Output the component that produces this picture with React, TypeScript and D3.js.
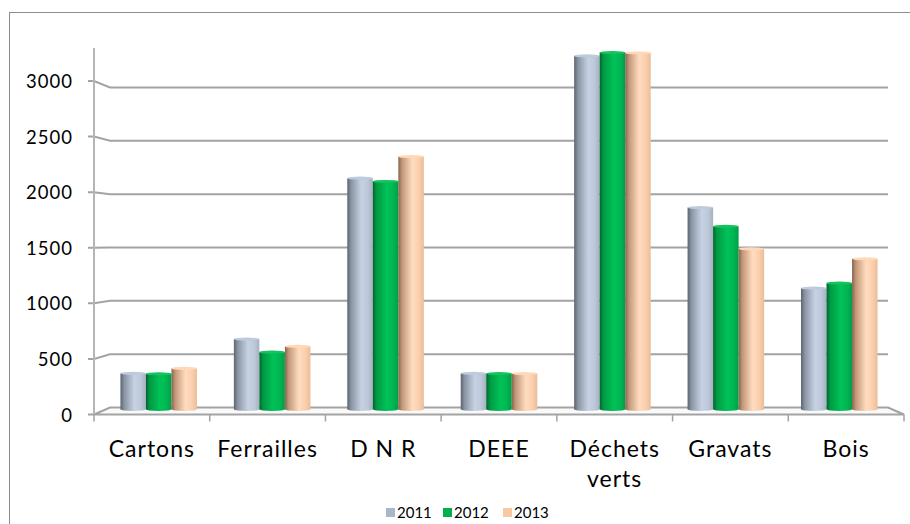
import React from "react";
import * as d3 from "d3";

const categories = ["Cartons", "Ferrailles", "D N R", "DEEE", "Déchets verts", "Gravats", "Bois"];
const categoryLines = [["Cartons"], ["Ferrailles"], ["D N R"], ["DEEE"], ["Déchets", "verts"], ["Gravats"], ["Bois"]];
const seriesNames = ["2011", "2012", "2013"];
const values2011 = [330, 645, 2122, 330, 3245, 1853, 1112];
const values2012 = [325, 525, 2092, 328, 3275, 1679, 1158];
const values2013 = [375, 577, 2320, 328, 3272, 1474, 1382];
const yTicks = [0, 500, 1000, 1500, 2000, 2500, 3000];

const seriesValues = [values2011, values2012, values2013];

const palette = [
  { legend: "#A9B7CB", cap: "#BFCBDC", stops: ["#5C646F", "#8A94A3", "#C6D2E3", "#BDC9DA", "#A5B0C0"] },
  { legend: "#00B050", cap: "#14C25E", stops: ["#00652C", "#009A44", "#00C257", "#00B652", "#009E48"] },
  { legend: "#FAC8A0", cap: "#FFD8B8", stops: ["#85654F", "#C39878", "#FFDCBF", "#FBCFAE", "#EBBD98"] },
];
const stopOffsets = [0, 0.15, 0.55, 0.8, 1];

export default function App() {
  const W = 910;
  const H = 524;
  const font = "Lato, 'Open Sans', sans-serif";

  // perspective planes
  const frontY = d3.scaleLinear().domain([0, 3000]).range([414.5, 81]);
  const backY = d3.scaleLinear().domain([0, 3000]).range([407.5, 87.5]);
  const barY = d3.scaleLinear().domain([0, 3000]).range([409.3, 82.6]);

  const frontX = d3.scaleBand<string>().domain(categories).range([94, 904]).padding(0);
  const midX = d3.scaleBand<string>().domain(categories).range([102, 896]).paddingInner(0.325).paddingOuter(0.1625);
  const innerX = d3.scaleBand<string>().domain(seriesNames).range([0, midX.bandwidth()]).padding(0);
  const bw = innerX.bandwidth();
  const backLeft = 110;
  const backRight = 888;
  const ry = 1.6;

  const legendX = [386, 443, 503];

  return (
    <svg width={W} height={H} style={{ display: "block", position: "absolute", left: 0, top: 0 }}>
      <defs>
        {palette.map((p, i) => (
          <linearGradient key={i} id={`cyl${i}`} x1="0" x2="1" y1="0" y2="0">
            {p.stops.map((c, j) => (
              <stop key={j} offset={stopOffsets[j]} stopColor={c} />
            ))}
          </linearGradient>
        ))}
      </defs>
      <rect x={0} y={0} width={W} height={H} fill="#fff" />
      <rect x={9.5} y={12.5} width={910} height={530} fill="none" stroke="#8C8C8C" strokeWidth={1} />

      {/* back wall gridlines */}
      {yTicks.filter((t) => t > 0).map((t) => (
        <g key={t}>
          <polyline
            points={`${88},${frontY(t)} ${94},${frontY(t)} ${backLeft},${backY(t)} ${backRight},${backY(t)}`}
            fill="none"
            stroke="#A3A3A3"
            strokeWidth={2}
          />
        </g>
      ))}

      {/* floor */}
      <polygon
        points={`94,${frontY(0)} ${backLeft},${backY(0)} ${backRight},${backY(0)} 904,${frontY(0)}`}
        fill="#FAFAFA"
        stroke="#A3A3A3"
        strokeWidth={2}
      />
      <line x1={88} x2={94} y1={frontY(0)} y2={frontY(0)} stroke="#A3A3A3" strokeWidth={2} />

      {/* vertical axis */}
      <line x1={94} x2={94} y1={48} y2={frontY(0)} stroke="#B5B5B5" strokeWidth={2} />

      {/* category ticks */}
      {categories.map((c) => (
        <line key={c} x1={frontX(c)!} x2={frontX(c)!} y1={frontY(0)} y2={frontY(0) + 7} stroke="#A3A3A3" strokeWidth={1.5} />
      ))}
      <line x1={904} x2={904} y1={frontY(0)} y2={frontY(0) + 7} stroke="#A3A3A3" strokeWidth={1.5} />

      {/* bars */}
      {categories.map((c, ci) =>
        seriesNames.map((s, si) => {
          const v = seriesValues[si][ci];
          const x = midX(c)! + innerX(s)!;
          const yTop = barY(v);
          const yBot = barY(0);
          return (
            <g key={c + s}>
              <ellipse cx={x + bw / 2} cy={yBot} rx={bw / 2} ry={ry} fill={`url(#cyl${si})`} />
              <rect x={x} y={yTop} width={bw} height={yBot - yTop} fill={`url(#cyl${si})`} />
              <ellipse cx={x + bw / 2} cy={yTop} rx={bw / 2} ry={ry} fill={palette[si].cap} />
            </g>
          );
        })
      )}

      {/* y labels */}
      {yTicks.map((t) => (
        <text
          key={t}
          x={73}
          y={frontY(t) + 7}
          textAnchor="end"
          fontFamily={font}
          fontSize={18.5}
          letterSpacing={1}
          fill="#000"
        >
          {t}
        </text>
      ))}

      {/* category labels */}
      {categories.map((c, ci) => (
        <text
          key={c}
          x={frontX(c)! + frontX.bandwidth() / 2}
          y={457}
          textAnchor="middle"
          fontFamily={font}
          fontSize={23}
          letterSpacing={1}
          fill="#000"
        >
          {categoryLines[ci].map((ln, li) => (
            <tspan key={li} x={frontX(c)! + frontX.bandwidth() / 2} dy={li === 0 ? 0 : 30}>
              {ln}
            </tspan>
          ))}
        </text>
      ))}

      {/* legend */}
      {seriesNames.map((s, si) => (
        <g key={s}>
          <rect x={legendX[si]} y={508} width={9} height={9} fill={palette[si].legend} />
          <text x={legendX[si] + 11} y={517.5} fontFamily={font} fontSize={15} fill="#000">
            {s}
          </text>
        </g>
      ))}
    </svg>
  );
}
